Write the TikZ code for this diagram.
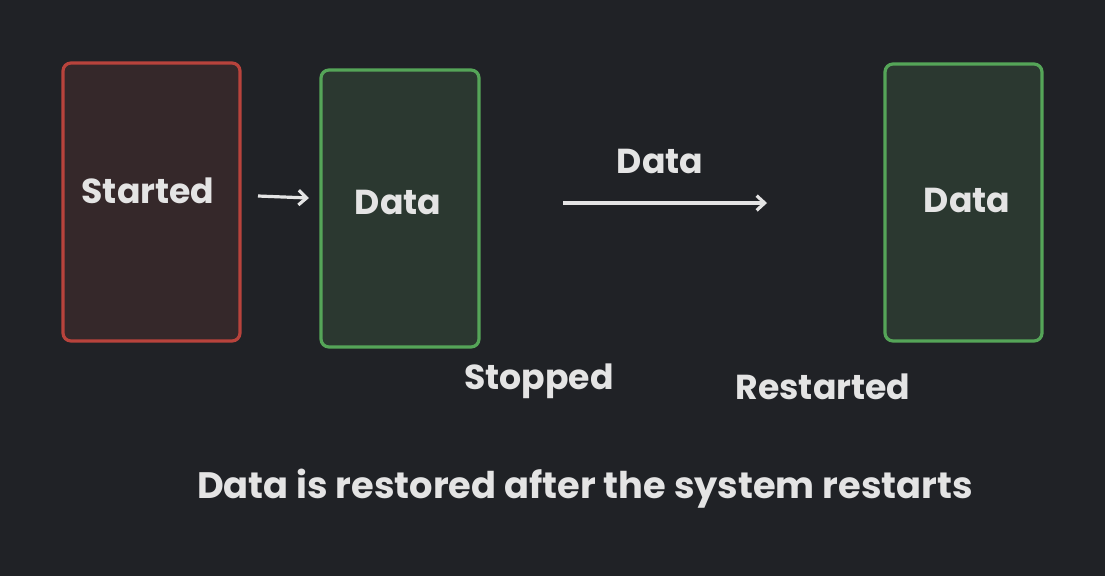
\documentclass[tikz,border=0pt]{standalone}
\usepackage{fontspec}
\setmainfont{Poppins}
\usetikzlibrary{arrows.meta}
\definecolor{bg}{HTML}{202226}
\definecolor{redline}{HTML}{B8433C}
\definecolor{redfill}{HTML}{35282A}
\definecolor{greenline}{HTML}{55A558}
\definecolor{greenfill}{HTML}{2B3830}
\definecolor{ink}{HTML}{E4E4E4}
\tikzset{
  box/.style={rounded corners=6, line width=2.4pt},
  redbox/.style={box, draw=redline, fill=redfill},
  greenbox/.style={box, draw=greenline, fill=greenfill},
  txt/.style={text=ink, font=\bfseries\fontsize{26}{30}\selectfont, inner sep=0pt},
  captxt/.style={txt, font=\bfseries\fontsize{27.6}{32}\selectfont},
  conn/.style={draw=ink, line width=2.4pt, -{Straight Barb[length=6pt,width=11pt,line width=2.4pt]}}
}
\begin{document}
\begin{tikzpicture}[x=0.75pt,y=-0.75pt]
\fill[bg] (0,0) rectangle (1105,576);
\useasboundingbox (0,0) rectangle (1105,576);
\draw[redbox] (63,63) rectangle (240,341);
\draw[greenbox] (321,70) rectangle (479,347);
\draw[greenbox] (885,64) rectangle (1042,341);
\node[txt] (started) at (148,191) {Started};
\node[txt] (data1) at (398,202) {Data};
\node[txt] (data3) at (967,200) {Data};
\node[txt] (datalbl) at (660,161) {Data};
\node[txt] (stopped) at (539,381) {Stopped};
\node[txt] (restarted) at (823,387) {Restarted};
\node[captxt] (caption) at (585,489) {Data is restored after the system restarts};
\coordinate (a1s) at (258,196);
\coordinate (a1e) at (309,198);
\coordinate (a2s) at (563,203);
\coordinate (a2e) at (767,203);
\draw[conn] (a1s) -- (a1e);
\draw[conn] (a2s) -- (a2e);
\end{tikzpicture}
\end{document}
